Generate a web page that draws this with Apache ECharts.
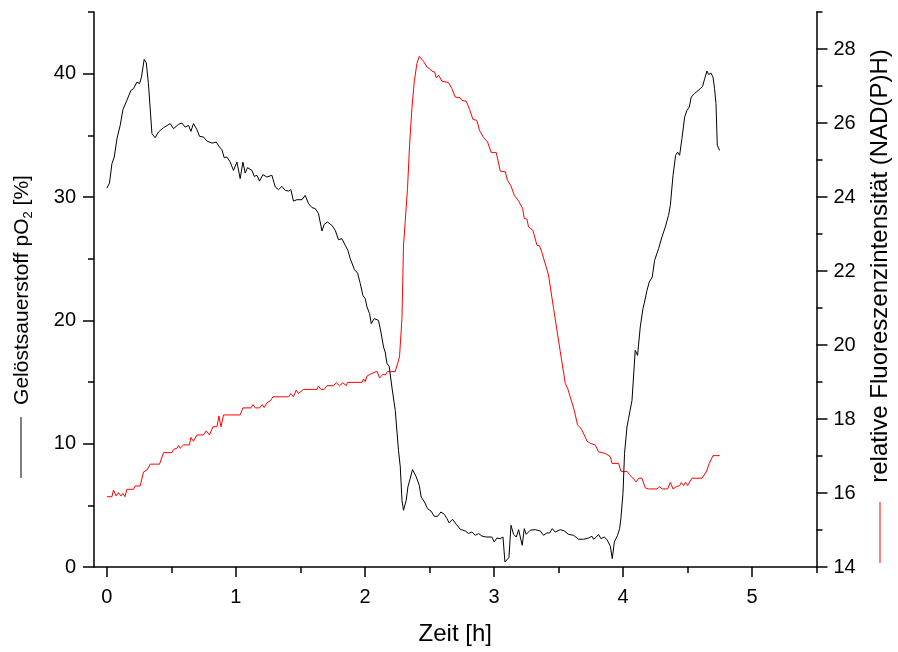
<!DOCTYPE html>
<html><head><meta charset="utf-8">
<script src="https://cdn.jsdelivr.net/npm/echarts@6/dist/echarts.min.js"></script>
<style>html,body{margin:0;padding:0;background:#fff}#c{width:898px;height:652px}</style>
</head><body><div id="c"></div>
<script>
// Time (h) and dissolved oxygen pO2 (%)
const o2Time = [0,0.020,0.039,0.057,0.078,0.103,0.124,0.155,0.186,0.206,0.233,0.253,0.268,0.289,0.305,0.322,0.349,0.374,0.400,0.439,0.491,0.516,0.555,0.581,0.607,0.633,0.651,0.671,0.698,0.718,0.749,0.775,0.814,0.847,0.873,0.891,0.909,0.930,0.956,0.981,1.008,1.033,1.054,1.072,1.090,1.124,1.142,1.163,1.183,1.209,1.240,1.279,1.305,1.330,1.357,1.382,1.408,1.426,1.446,1.473,1.512,1.537,1.563,1.589,1.615,1.640,1.667,1.684,1.710,1.744,1.770,1.795,1.822,1.847,1.868,1.886,1.919,1.943,1.964,1.984,2.002,2.016,2.036,2.049,2.072,2.105,2.124,2.144,2.157,2.171,2.188,2.209,2.235,2.260,2.274,2.287,2.299,2.320,2.333,2.369,2.398,2.421,2.436,2.462,2.485,2.512,2.537,2.563,2.589,2.615,2.636,2.653,2.679,2.708,2.739,2.778,2.803,2.829,2.855,2.881,2.907,2.940,2.984,3.002,3.023,3.049,3.070,3.085,3.116,3.132,3.152,3.173,3.191,3.204,3.219,3.235,3.250,3.281,3.320,3.359,3.384,3.411,3.431,3.452,3.475,3.514,3.545,3.578,3.617,3.656,3.695,3.733,3.760,3.772,3.793,3.811,3.829,3.855,3.876,3.902,3.917,3.933,3.958,3.974,3.984,4.000,4.012,4.031,4.043,4.070,4.095,4.113,4.134,4.155,4.167,4.186,4.204,4.227,4.245,4.276,4.302,4.328,4.353,4.367,4.388,4.408,4.423,4.439,4.457,4.478,4.496,4.514,4.529,4.553,4.574,4.599,4.617,4.633,4.651,4.664,4.682,4.698,4.710,4.721,4.731,4.749];
const o2Values = [30.73,31.13,32.70,33.24,34.73,35.81,37.08,37.84,38.65,38.78,39.32,39.19,39.72,41.16,40.89,39.19,35.14,34.81,35.27,35.62,35.95,35.54,35.89,35.99,35.67,35.81,35.32,35.95,35.46,34.92,34.86,34.54,34.37,34.45,34.05,33.84,33.19,33.24,32.83,32.16,32.83,31.49,32.83,31.94,32.38,32.16,31.67,31.76,31.29,31.81,31.62,31.76,30.81,30.60,30.86,30.54,30.48,30.60,29.67,29.78,29.78,30.13,29.46,29.14,29.06,28.65,27.24,27.78,27.97,27.70,27.30,26.54,26.62,26.08,25.67,25.00,24.11,23.83,22.98,22.03,21.76,21.08,20.54,19.73,20.14,20.00,19.05,17.84,17.43,16.49,16.27,14.59,12.70,9.46,8.11,5.41,4.60,5.41,6.49,7.90,7.30,6.62,5.67,5.27,4.73,4.54,4.11,4.11,4.46,4.27,3.92,3.57,3.87,3.46,3.06,2.92,2.71,2.84,2.57,2.71,2.51,2.43,2.43,2.03,2.35,2.30,2.43,0.41,0.76,3.38,2.65,2.43,3.03,2.98,1.76,3.11,2.65,2.98,3.03,2.92,2.57,2.76,2.76,3.11,2.84,3.03,2.92,2.65,2.57,2.25,2.25,2.35,2.49,2.25,2.43,2.63,2.30,2.43,2.22,1.68,0.68,2.03,2.57,3.11,3.95,5.95,9.19,11.35,12.03,13.51,17.57,17.16,19.46,20.95,21.48,22.43,23.11,23.51,24.86,25.81,26.75,27.56,28.51,29.32,31.76,33.38,33.64,33.38,34.73,36.48,37.02,37.29,38.10,38.38,38.56,38.78,38.97,39.59,40.21,39.94,40.05,39.72,38.78,37.57,34.19,33.78];

// Time (h) and relative fluorescence NAD(P)H
const fluTime = [0,0.039,0.051,0.072,0.090,0.109,0.124,0.140,0.155,0.206,0.219,0.258,0.284,0.310,0.336,0.408,0.439,0.504,0.516,0.543,0.555,0.568,0.594,0.640,0.651,0.671,0.698,0.749,0.770,0.795,0.822,0.853,0.868,0.884,0.904,1.033,1.054,1.116,1.132,1.150,1.183,1.204,1.219,1.240,1.266,1.287,1.408,1.426,1.446,1.467,1.485,1.524,1.628,1.640,1.659,1.684,1.705,1.757,1.778,1.803,1.829,1.855,1.865,1.977,1.989,2.002,2.016,2.041,2.093,2.113,2.140,2.157,2.175,2.196,2.235,2.268,2.287,2.299,2.312,2.330,2.346,2.364,2.382,2.403,2.421,2.436,2.454,2.481,2.501,2.519,2.540,2.553,2.571,2.597,2.648,2.674,2.700,2.739,2.752,2.785,2.811,2.837,2.868,2.888,2.919,2.950,2.979,3.018,3.049,3.088,3.105,3.132,3.157,3.191,3.222,3.235,3.256,3.268,3.302,3.333,3.353,3.372,3.384,3.423,3.462,3.514,3.553,3.571,3.591,3.622,3.648,3.674,3.700,3.721,3.747,3.785,3.811,3.863,3.902,3.915,3.966,3.984,4.005,4.031,4.051,4.078,4.103,4.121,4.147,4.173,4.198,4.264,4.284,4.302,4.346,4.367,4.388,4.413,4.439,4.452,4.470,4.485,4.501,4.535,4.612,4.646,4.669,4.682,4.698,4.749];
const fluValues = [15.90,15.90,16.08,15.92,16.01,15.92,15.99,15.90,16.10,16.10,16.19,16.19,16.57,16.62,16.78,16.78,17.09,17.09,17.18,17.21,17.28,17.21,17.30,17.30,17.50,17.40,17.57,17.57,17.68,17.57,17.79,17.79,18.08,17.79,18.11,18.11,18.30,18.30,18.39,18.30,18.30,18.39,18.31,18.44,18.49,18.60,18.60,18.69,18.60,18.78,18.69,18.80,18.80,18.89,18.80,18.80,18.90,18.90,18.98,18.90,18.98,18.90,18.99,18.99,19.08,19.01,19.16,19.21,19.29,19.11,19.21,19.19,19.28,19.28,19.28,19.68,20.72,22.70,23.33,24.23,25.40,26.39,27.11,27.61,27.80,27.78,27.67,27.51,27.47,27.40,27.38,27.22,27.29,27.13,27.09,26.93,26.70,26.68,26.61,26.59,26.37,26.10,26.07,25.80,25.61,25.49,25.20,25.20,24.70,24.68,24.45,24.30,24.05,23.89,23.69,23.42,23.40,23.19,23.10,22.70,22.68,22.50,22.47,21.89,20.99,19.82,18.96,18.83,18.60,18.24,17.84,17.75,17.57,17.40,17.34,17.30,17.11,17.07,16.98,16.80,16.80,16.59,16.57,16.59,16.49,16.40,16.30,16.40,16.40,16.14,16.11,16.11,16.17,16.11,16.11,16.29,16.11,16.17,16.20,16.28,16.20,16.29,16.20,16.40,16.40,16.57,16.80,16.83,17.01,17.01];

// Tick values
const xMajorTicks = [0,1,2,3,4,5];
const xMinorTicks = [0.5,1.5,2.5,3.5,4.5,5.5];
const leftMajorTicks = [0,10,20,30,40];
const leftMinorTicks = [5,15,25,35,45];
const rightMajorTicks = [14,16,18,20,22,24,26,28];
const rightMinorTicks = [15,17,19,21,23,25,27,29];

const FONT = '"Liberation Sans", Arial, sans-serif';
const LBL = 20;

function zip(a,b){return a.map((v,i)=>[v,b[i]]);}

const chart = echarts.init(document.getElementById('c'), null, {renderer:'canvas'});
const hidden = {show:false};
chart.setOption({
  animation:false,
  backgroundColor:'#fff',
  grid:{left:94,right:81.5,top:12,bottom:85,containLabel:false},
  xAxis:[
    {type:'value',min:-0.1,max:5.5,position:'bottom',
     axisLine:{show:true,onZero:false,lineStyle:{color:'#000',width:1.5}},
     axisTick:{show:true,length:10,customValues:xMajorTicks,lineStyle:{color:'#000',width:1.5}},
     axisLabel:{customValues:xMajorTicks,color:'#000',fontSize:LBL,fontFamily:FONT,margin:20},
     splitLine:hidden,
     name:'Zeit [h]',nameLocation:'middle',nameGap:55,
     nameTextStyle:{color:'#000',fontSize:24,fontFamily:FONT}},
    {type:'value',min:-0.1,max:5.5,position:'bottom',
     axisLine:{show:false,onZero:false},
     axisTick:{show:true,length:6,customValues:xMinorTicks,lineStyle:{color:'#000',width:1.5}},
     axisLabel:hidden,splitLine:hidden}
  ],
  yAxis:[
    {type:'value',min:0,max:45,position:'left',
     axisLine:{show:true,onZero:false,lineStyle:{color:'#000',width:1.5}},
     axisTick:{show:true,length:11,customValues:leftMajorTicks,lineStyle:{color:'#000',width:1.5}},
     axisLabel:{customValues:leftMajorTicks,color:'#000',fontSize:LBL,fontFamily:FONT,margin:18},
     splitLine:hidden},
    {type:'value',min:14,max:29,position:'right',
     axisLine:{show:true,onZero:false,lineStyle:{color:'#000',width:1.5}},
     axisTick:{show:true,length:11,customValues:rightMajorTicks,lineStyle:{color:'#000',width:1.5}},
     axisLabel:{customValues:rightMajorTicks,color:'#000',fontSize:LBL,fontFamily:FONT,margin:17},
     splitLine:hidden},
    {type:'value',min:0,max:45,position:'left',
     axisLine:{show:false,onZero:false},
     axisTick:{show:true,length:6,customValues:leftMinorTicks,lineStyle:{color:'#000',width:1.5}},
     axisLabel:hidden,splitLine:hidden},
    {type:'value',min:14,max:29,position:'right',
     axisLine:{show:false,onZero:false},
     axisTick:{show:true,length:6,customValues:rightMinorTicks,lineStyle:{color:'#000',width:1.5}},
     axisLabel:hidden,splitLine:hidden}
  ],
  series:[
    {name:'relative Fluoreszenzintensität (NAD(P)H)',type:'line',xAxisIndex:0,yAxisIndex:1,
     data:zip(fluTime,fluValues),showSymbol:false,symbol:'none',
     lineStyle:{color:'#ff0000',width:1},itemStyle:{color:'#ff0000'}},
    {name:'Gelöstsauerstoff pO2 [%]',type:'line',xAxisIndex:0,yAxisIndex:0,
     data:zip(o2Time,o2Values),showSymbol:false,symbol:'none',
     lineStyle:{color:'#000',width:1},itemStyle:{color:'#000'}}
  ],
  graphic:[
    {type:'text',x:22,y:290,rotation:Math.PI/2,
     style:{text:'{a|Gelöstsauerstoff pO}{s|2}{a| [%]}',align:'center',verticalAlign:'middle',fill:'#000',
       rich:{a:{fontSize:21,fontFamily:FONT,lineHeight:26,fill:'#000'},
             s:{fontSize:13,fontFamily:FONT,lineHeight:12,verticalAlign:'bottom',fill:'#000'}}}},
    {type:'line',shape:{x1:21,y1:417,x2:21,y2:478},style:{stroke:'#000',lineWidth:1}},
    {type:'text',x:880,y:266,rotation:Math.PI/2,
     style:{text:'relative Fluoreszenzintensität (NAD(P)H)',align:'center',verticalAlign:'middle',
       fill:'#000',fontSize:24,fontFamily:FONT}},
    {type:'line',shape:{x1:880,y1:502,x2:880,y2:563},style:{stroke:'#ff0000',lineWidth:1}}
  ]
});
</script></body></html>
